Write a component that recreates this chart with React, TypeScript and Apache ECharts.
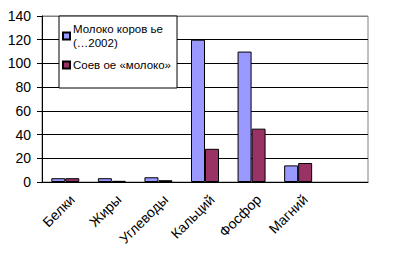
import React, { useEffect, useRef } from "react";
import * as echarts from "echarts";

const categories = ["Белки", "Жиры", "Углеводы", "Кальций", "Фосфор", "Магний", ""];
const cowMilk = [3.2, 3.2, 4, 120, 110, 14, null];
const soyMilk = [3.2, 1, 1.5, 28, 45, 16, null];
const seriesNames = ["Молоко коров ье\n(…2002)", "Соев ое «молоко»"];

const FONT = "Arial, 'Liberation Sans', sans-serif";

export default function App() {
  const ref = useRef<HTMLDivElement>(null);
  useEffect(() => {
    document.body.style.margin = "0";
    const chart = echarts.init(ref.current!, null, { renderer: "svg" });
    chart.setOption({
      animation: false,
      backgroundColor: "#ffffff",
      textStyle: { fontFamily: FONT },
      grid: {
        left: 42,
        right: 31,
        top: 16,
        bottom: 87,
        show: true,
        borderColor: "#808080",
        borderWidth: 1,
      },
      legend: {
        orient: "vertical",
        left: 59,
        top: 16,
        itemWidth: 7,
        itemHeight: 7,
        itemGap: 8,
        padding: [6, 6, 16, 3],
        borderColor: "#000",
        borderWidth: 1,
        backgroundColor: "#ffffff",
        icon: "rect",
        textStyle: { fontSize: 11.5, color: "#000", fontFamily: FONT, lineHeight: 14, padding: [0, 0, 0, -2] },
        data: seriesNames,
      },
      xAxis: {
        type: "category",
        data: categories,
        axisLine: { lineStyle: { color: "#000", width: 1 } },
        axisTick: { length: 5, lineStyle: { color: "#000" } },
        axisLabel: {
          rotate: 45,
          fontSize: 14,
          color: "#000",
          fontFamily: FONT,
          margin: 8,
          verticalAlign: "top",
          lineHeight: 20,
          interval: 0,
        },
      },
      yAxis: {
        type: "value",
        min: 0,
        max: 140,
        interval: 20,
        axisLine: { show: true, lineStyle: { color: "#000", width: 1 } },
        axisTick: { show: true, length: 5, lineStyle: { color: "#000" } },
        axisLabel: { fontSize: 14, color: "#000", fontFamily: FONT, margin: 11 },
        splitLine: {
          lineStyle: {
            color: ["#000", "#000", "#000", "#000", "#000", "#000", "#000", "#808080"],
            width: 1,
          },
        },
      },
      series: [
        {
          name: seriesNames[0],
          type: "bar",
          data: cowMilk,
          barWidth: 14,
          barGap: "0%",
          itemStyle: { color: "#9999FF", borderColor: "#000", borderWidth: 1 },
        },
        {
          name: seriesNames[1],
          type: "bar",
          data: soyMilk,
          barWidth: 14,
          barGap: "0%",
          itemStyle: { color: "#993366", borderColor: "#000", borderWidth: 1 },
        },
      ],
    });
    return () => chart.dispose();
  }, []);
  return (
    <div
      ref={ref}
      style={{ position: "absolute", left: 0, top: 0, width: 399, height: 269 }}
    />
  );
}
